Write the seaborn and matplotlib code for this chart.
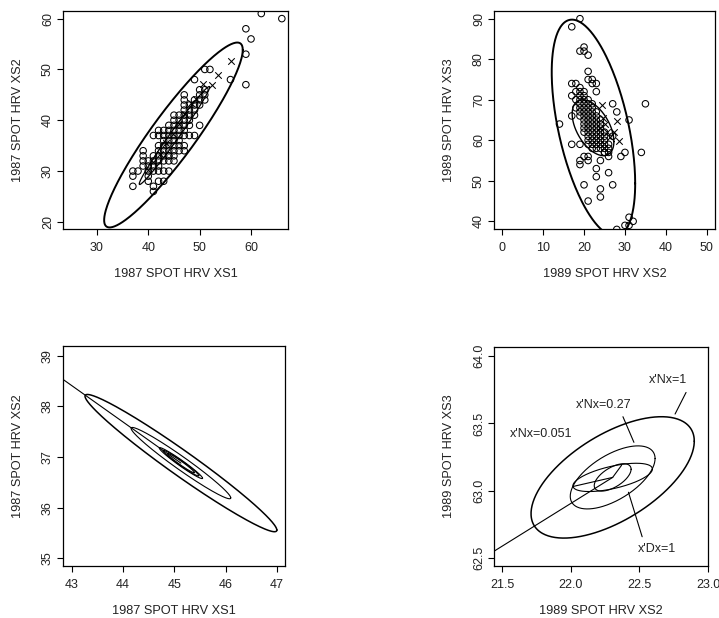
import numpy as np
import pandas as pd
import matplotlib
matplotlib.use("Agg")
import matplotlib.pyplot as plt
import seaborn as sns

sns.set_theme(style="white")
plt.rcParams["font.family"] = ["Liberation Sans", "DejaVu Sans"]

# ---------------- data ----------------
# Panel 1: 1987 XS1 vs XS2 (scattered pixels)
p1_x = [62, 66, 59, 60, 59, 59, 56, 51, 52, 49, 50, 51, 51, 51, 50, 49, 48,
        47, 47, 47, 47, 46, 45, 48, 48, 50, 49, 48, 47, 46, 47, 46, 45, 44,
        44, 45, 44, 43, 42, 43, 42, 41, 41, 40, 40, 37, 37, 37, 38, 39, 39,
        39, 39, 41, 42, 43, 42, 44, 45]
p1_y = [61, 60, 58, 56, 53, 47, 48, 50, 50, 48, 46, 46, 45, 44, 44, 44, 43,
        45, 44, 43, 42, 41, 41, 41, 39, 39, 37, 37, 35, 35, 34, 34, 33, 33,
        32, 32, 30, 30, 30, 28, 28, 27, 26, 28, 29, 27, 29, 30, 30, 31, 32,
        33, 34, 37, 37, 38, 38, 39, 39]
p1_core_x = [40, 40, 40, 41, 41, 41, 41, 42, 42, 42, 42, 42, 43, 43, 43, 43,
             43, 43, 44, 44, 44, 44, 44, 44, 45, 45, 45, 45, 45, 45, 46, 46,
             46, 46, 46, 47, 47, 47, 47, 47, 48, 48, 49, 49, 49, 50, 50]
p1_core_y = [30, 31, 32, 30, 31, 32, 33, 31, 32, 33, 34, 35, 32, 33, 34, 35,
             36, 37, 33, 34, 35, 36, 37, 38, 34, 35, 36, 37, 38, 40, 36, 37,
             38, 39, 40, 37, 38, 39, 40, 41, 40, 42, 41, 42, 43, 43, 45]
p1_flag_x = [56.1, 53.5, 52.4, 50.7, 49.2, 48.3, 47.2, 46.0, 44.8, 43.5, 42.2, 41.0, 40.0]
p1_flag_y = [51.7, 49.0, 47.0, 47.1, 44.2, 43.3, 41.2, 39.3, 37.3, 35.5, 33.4, 31.8, 30.2]

# Panel 2: 1989 XS2 vs XS3
p2_x = [19, 17, 20, 19, 20, 21, 21, 21, 22, 23, 17, 18, 22, 23, 19, 19, 17,
        14, 17, 17, 19, 19, 19, 20, 21, 24, 24, 23, 23, 26, 27, 24, 21, 21,
        20, 25, 26, 29, 30, 34, 35, 31, 28, 27, 28, 31, 31, 32, 30]
p2_y = [90, 88, 83, 82, 82, 81, 77, 75, 75, 74, 74, 74, 74, 72, 73, 72, 71,
        64, 66, 59, 59, 55, 54, 49, 45, 48, 46, 51, 53, 52, 49, 55, 55, 56,
        56, 57, 56, 56, 57, 57, 69, 65, 67, 69, 38, 41, 39, 40, 39]
p2_core_x = [18, 18, 18,
             19, 19, 19, 19, 19, 19,
             20, 20, 20, 20, 20, 20, 20, 20, 20, 20, 20,
             21, 21, 21, 21, 21, 21, 21, 21, 21, 21, 21, 21,
             22, 22, 22, 22, 22, 22, 22, 22, 22, 22, 22, 22,
             23, 23, 23, 23, 23, 23, 23, 23, 23, 23,
             24, 24, 24, 24, 24, 24, 24, 24,
             25, 25, 25, 25, 25, 25,
             26, 26, 26, 27]
p2_core_y = [68, 70, 72,
             66, 67, 68, 69, 70, 71,
             62, 63, 64, 65, 66, 67, 68, 69, 70, 71, 72,
             59, 60, 61, 62, 63, 64, 65, 66, 67, 68, 69, 70,
             58, 59, 60, 61, 62, 63, 64, 65, 66, 67, 68, 69,
             58, 59, 60, 61, 62, 63, 64, 65, 66, 67,
             58, 59, 60, 61, 62, 63, 64, 65,
             57, 58, 59, 60, 61, 62,
             57, 58, 59, 61]
p2_flag_x = [24.3, 28.0, 27.2, 28.6, 25.5, 26.3, 25.0, 24.6, 23.8]
p2_flag_y = [68.6, 64.7, 62.0, 59.7, 62.1, 60.9, 64.0, 65.5, 63.0]

# Ellipse parameters (centre, matrix)
p1_center = [44.9, 37.1]
p1_outer = [[182.0, 226.0], [226.0, 331.0]]
p1_inner_center = [45.1, 37.0]
p1_inner = [[47.0, 65.3], [65.3, 93.0]]

p2_center = [22.3, 63.07]
p2_outer = [[104.0, -140.0], [-140.0, 713.0]]
p2_inner_center = [22.2, 63.1]
p2_inner = [[26.0, -17.5], [-17.5, 47.6]]

p3_center = [45.13, 36.88]
p3_N = [[3.5, -2.47], [-2.47, 1.833]]
p3_levels = [1.0, 0.27, 0.051, 0.035, 0.02]

p4_center = [22.305, 63.10]
p4_N = [[0.354, 0.16], [0.16, 0.2025]]
p4_D = [[0.084, 0.018], [0.018, 0.011]]
p4_levels = [1.0, 0.27, 0.051]
p4_labels = ["x'Nx=1", "x'Nx=0.27", "x'Nx=0.051", "x'Dx=1"]
p4_label_x = [22.71, 22.24, 21.785, 22.63]
p4_label_y = [63.82, 63.64, 63.42, 62.57]
p4_leader_x0 = [22.84, 22.38, 22.52]
p4_leader_y0 = [63.73, 63.55, 62.66]
p4_leader_x1 = [22.76, 22.46, 22.42]
p4_leader_y1 = [63.57, 63.36, 62.99]
p4_spoke_x = [22.305, 22.37]
p4_spoke_y = [63.10, 63.19]

lab87_1 = "1987 SPOT HRV XS1"
lab87_2 = "1987 SPOT HRV XS2"
lab89_2 = "1989 SPOT HRV XS2"
lab89_3 = "1989 SPOT HRV XS3"


def ellipse_pts(center, mat, level=1.0, n=300):
    t = np.linspace(0, 2 * np.pi, n)
    L = np.linalg.cholesky(np.array(mat))
    u = np.vstack([np.cos(t), np.sin(t)]) * np.sqrt(level)
    p = L @ u
    return pd.DataFrame({"x": center[0] + p[0], "y": center[1] + p[1]})


def draw_ellipse(ax, center, mat, level=1.0, lw=0.8):
    df = ellipse_pts(center, mat, level)
    sns.lineplot(data=df, x="x", y="y", sort=False, estimator=None,
                 color="black", lw=lw, ax=ax)


def major_axis(mat):
    w, v = np.linalg.eigh(np.array(mat))
    return v[:, np.argmax(w)], np.sqrt(w.max())


W, H = 719, 618
fig = plt.figure(figsize=(W / 100, H / 100), dpi=100)


def make_ax(x0, y0, x1, y1):
    return fig.add_axes([x0 / W, 1 - y1 / H, (x1 - x0) / W, (y1 - y0) / H])


ax1 = make_ax(63, 11, 288, 229)
ax2 = make_ax(494, 11, 715, 229)
ax3 = make_ax(63, 346, 285, 566)
ax4 = make_ax(494, 347, 708, 566)


def style(ax, xlim, ylim, xt, yt, xl, yl, xfmt=None, yfmt=None):
    ax.set_xlim(*xlim)
    ax.set_ylim(*ylim)
    ax.set_xticks(xt)
    ax.set_yticks(yt)
    if xfmt:
        ax.set_xticklabels([xfmt.format(v) for v in xt])
    if yfmt:
        ax.set_yticklabels([yfmt.format(v) for v in yt])
    ax.tick_params(axis="both", direction="out", length=4.3, width=0.8,
                   color="black", labelsize=9, labelcolor="#222222")
    ax.tick_params(axis="x", pad=5.0, bottom=True)
    ax.tick_params(axis="y", pad=2.2, left=True)
    for lab in ax.get_yticklabels():
        lab.set_rotation(90)
        lab.set_va("center")
    for s in ax.spines.values():
        s.set_visible(True)
        s.set_color("black")
        s.set_linewidth(0.9)
    ax.set_facecolor("white")
    ax.set_xlabel(xl, fontsize=9.2, color="#222222")
    ax.set_ylabel(yl, fontsize=9.2, color="#222222")
    bb = ax.get_position()
    hpx = bb.height * H
    wpx = bb.width * W
    ax.xaxis.set_label_coords(0.5, -45 / hpx)
    ax.xaxis.label.set_va("center")
    ax.yaxis.set_label_coords(-45 / wpx, 0.5)
    ax.yaxis.label.set_va("center")


ms = 22
# ---- Panel 1
sns.scatterplot(x=p1_x + p1_core_x, y=p1_y + p1_core_y, marker="o", s=ms,
                facecolors="none", edgecolor="black", linewidth=0.75, ax=ax1)
sns.scatterplot(x=p1_flag_x, y=p1_flag_y, marker="x", s=ms, color="black",
                linewidth=0.75, ax=ax1)
draw_ellipse(ax1, p1_center, p1_outer, lw=1.4)
draw_ellipse(ax1, p1_inner_center, p1_inner, lw=0.9)
style(ax1, (23.4, 67.2), (18.6, 61.5), [30, 40, 50, 60], [20, 30, 40, 50, 60],
      lab87_1, lab87_2)

# ---- Panel 2
sns.scatterplot(x=p2_x + p2_core_x, y=p2_y + p2_core_y, marker="o", s=ms,
                facecolors="none", edgecolor="black", linewidth=0.75, ax=ax2)
sns.scatterplot(x=p2_flag_x, y=p2_flag_y, marker="x", s=ms, color="black",
                linewidth=0.75, ax=ax2)
draw_ellipse(ax2, p2_center, p2_outer, lw=1.4)
draw_ellipse(ax2, p2_inner_center, p2_inner, lw=1.0)
style(ax2, (-2.0, 52.0), (38.1, 91.9), [0, 10, 20, 30, 40, 50],
      [40, 50, 60, 70, 80, 90], lab89_2, lab89_3)

# ---- Panel 3
for i, lv in enumerate(p3_levels):
    draw_ellipse(ax3, p3_center, p3_N, lv, lw=1.1 if i == 0 else 0.8)
v3, r3 = major_axis(p3_N)
if v3[0] > 0:
    v3 = -v3
ax3_line = pd.DataFrame({"x": [p3_center[0], p3_center[0] + 2.0 * r3 * v3[0]],
                         "y": [p3_center[1], p3_center[1] + 2.0 * r3 * v3[1]]})
sns.lineplot(data=ax3_line, x="x", y="y", sort=False, estimator=None,
             color="black", lw=0.8, ax=ax3)
style(ax3, (42.83, 47.16), (34.85, 39.19), [43, 44, 45, 46, 47],
      [35, 36, 37, 38, 39], lab87_1, lab87_2)

# ---- Panel 4
for i, lv in enumerate(p4_levels):
    draw_ellipse(ax4, p4_center, p4_N, lv, lw=1.1 if i == 0 else 0.8)
draw_ellipse(ax4, p4_center, p4_D, 1.0, lw=0.8)
v4, r4 = major_axis(p4_N)
if v4[0] > 0:
    v4 = -v4
ax4_line = pd.DataFrame({"x": [p4_center[0], p4_center[0] + 2.5 * r4 * v4[0]],
                         "y": [p4_center[1], p4_center[1] + 2.5 * r4 * v4[1]]})
sns.lineplot(data=ax4_line, x="x", y="y", sort=False, estimator=None,
             color="black", lw=0.8, ax=ax4)
vd, rd = major_axis(p4_D)
if vd[0] > 0:
    vd = -vd
ax4.plot([p4_center[0], p4_center[0] + rd * vd[0]],
         [p4_center[1], p4_center[1] + rd * vd[1]], color="black", lw=0.8)
ax4.plot(p4_spoke_x, p4_spoke_y, color="black", lw=0.8)
for x0, y0, x1, y1 in zip(p4_leader_x0, p4_leader_y0, p4_leader_x1, p4_leader_y1):
    ax4.plot([x0, x1], [y0, y1], color="black", lw=0.8)
for t, x, y in zip(p4_labels, p4_label_x, p4_label_y):
    ax4.text(x, y, t, ha="center", va="center", fontsize=9, color="#222222")
style(ax4, (21.44, 23.0), (62.443, 64.067), [21.5, 22.0, 22.5, 23.0],
      [62.5, 63.0, 63.5, 64.0], lab89_2, lab89_3, xfmt="{:.1f}", yfmt="{:.1f}")

for ax in (ax1, ax2, ax3, ax4):
    leg = ax.get_legend()
    if leg:
        leg.remove()

fig.savefig("out.png", dpi=100, facecolor="white")
